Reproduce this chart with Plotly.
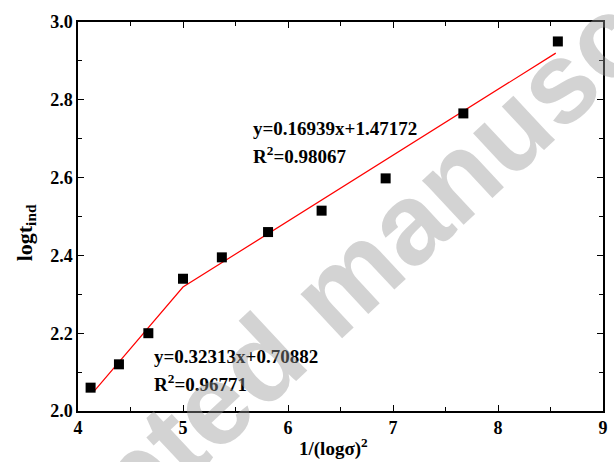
import plotly.graph_objects as go

# Data
x_vals = [4.12, 4.39, 4.67, 5.00, 5.37, 5.81, 6.32, 6.93, 7.67, 8.57]
y_vals = [2.06, 2.12, 2.20, 2.34, 2.395, 2.46, 2.515, 2.598, 2.765, 2.95]

# Linear fit coefficients shown on the chart
fit1_slope, fit1_icpt = 0.32313, 0.70882
fit2_slope, fit2_icpt = 0.16939, 1.47172
fit1_range = [4.15, 5.00]
fit2_range = [5.00, 8.55]

fit_x = [fit1_range[0], fit1_range[1], fit2_range[1]]
fit_y = [fit1_slope * fit1_range[0] + fit1_icpt,
         fit2_slope * fit2_range[0] + fit2_icpt,
         fit2_slope * fit2_range[1] + fit2_icpt]

x_ticks = [4, 5, 6, 7, 8, 9]
y_ticks = [2.0, 2.2, 2.4, 2.6, 2.8, 3.0]

FONT = "Liberation Serif"

fig = go.Figure()
fig.add_trace(go.Scatter(x=fit_x, y=fit_y, mode="lines",
                         line=dict(color="red", width=1.2), showlegend=False))
fig.add_trace(go.Scatter(x=x_vals, y=y_vals, mode="markers",
                         marker=dict(symbol="square", size=10, color="black"),
                         showlegend=False))

axis_common = dict(showline=True, linecolor="black", linewidth=1.5, mirror="ticks",
                   ticks="inside", ticklen=6, tickwidth=1.2, tickcolor="black",
                   showgrid=False, zeroline=False,
                   tickfont=dict(family=FONT, size=18, color="black", weight="bold"))

fig.update_xaxes(range=[4, 9], tickvals=x_ticks, ticktext=[str(v) for v in x_ticks],
                 minor=dict(dtick=0.5, ticks="inside", ticklen=4, tickcolor="black", tickwidth=1.2),
                 **axis_common)
fig.update_yaxes(range=[2.0, 3.0], tickvals=y_ticks, ticktext=[f"{v:.1f}" for v in y_ticks],
                 minor=dict(dtick=0.1, ticks="inside", ticklen=4, tickcolor="black", tickwidth=1.2),
                 **axis_common)

# Axis titles
fig.add_annotation(xref="paper", yref="paper", x=0.487, y=-0.093,
                   xanchor="center", yanchor="middle", showarrow=False,
                   text="<b>1/(logσ)<sup>2</sup></b>",
                   font=dict(family=FONT, size=19, color="black"))
fig.add_annotation(xref="paper", yref="paper", x=-0.10, y=0.458,
                   xanchor="center", yanchor="middle", showarrow=False, textangle=-90,
                   text="<b>logt<sub>ind</sub></b>",
                   font=dict(family=FONT, size=22, color="black"))

ann_font = dict(family=FONT, size=19, color="black")
annotations = [
    dict(x=5.65, y=2.727, text="<b>y=0.16939x+1.47172</b>"),
    dict(x=5.65, y=2.658, text="<b>R<sup>2</sup>=0.98067</b>"),
    dict(x=4.70, y=2.139, text="<b>y=0.32313x+0.70882</b>"),
    dict(x=4.70, y=2.072, text="<b>R<sup>2</sup>=0.96771</b>"),
]
for a in annotations:
    fig.add_annotation(xref="x", yref="y", xanchor="left", yanchor="middle",
                       showarrow=False, font=ann_font, **a)

# Watermark
fig.add_annotation(xref="paper", yref="paper", x=0.49, y=0.31,
                   xanchor="center", yanchor="middle",
                   text="<b>Accepted manuscript</b>", showarrow=False, textangle=-43,
                   font=dict(family="Liberation Sans", size=115, color="rgba(150,150,150,0.42)"))

fig.update_layout(width=614, height=462, margin=dict(l=78, r=6, t=22, b=51),
                  plot_bgcolor="white", paper_bgcolor="white")

fig.write_html("out.html")
